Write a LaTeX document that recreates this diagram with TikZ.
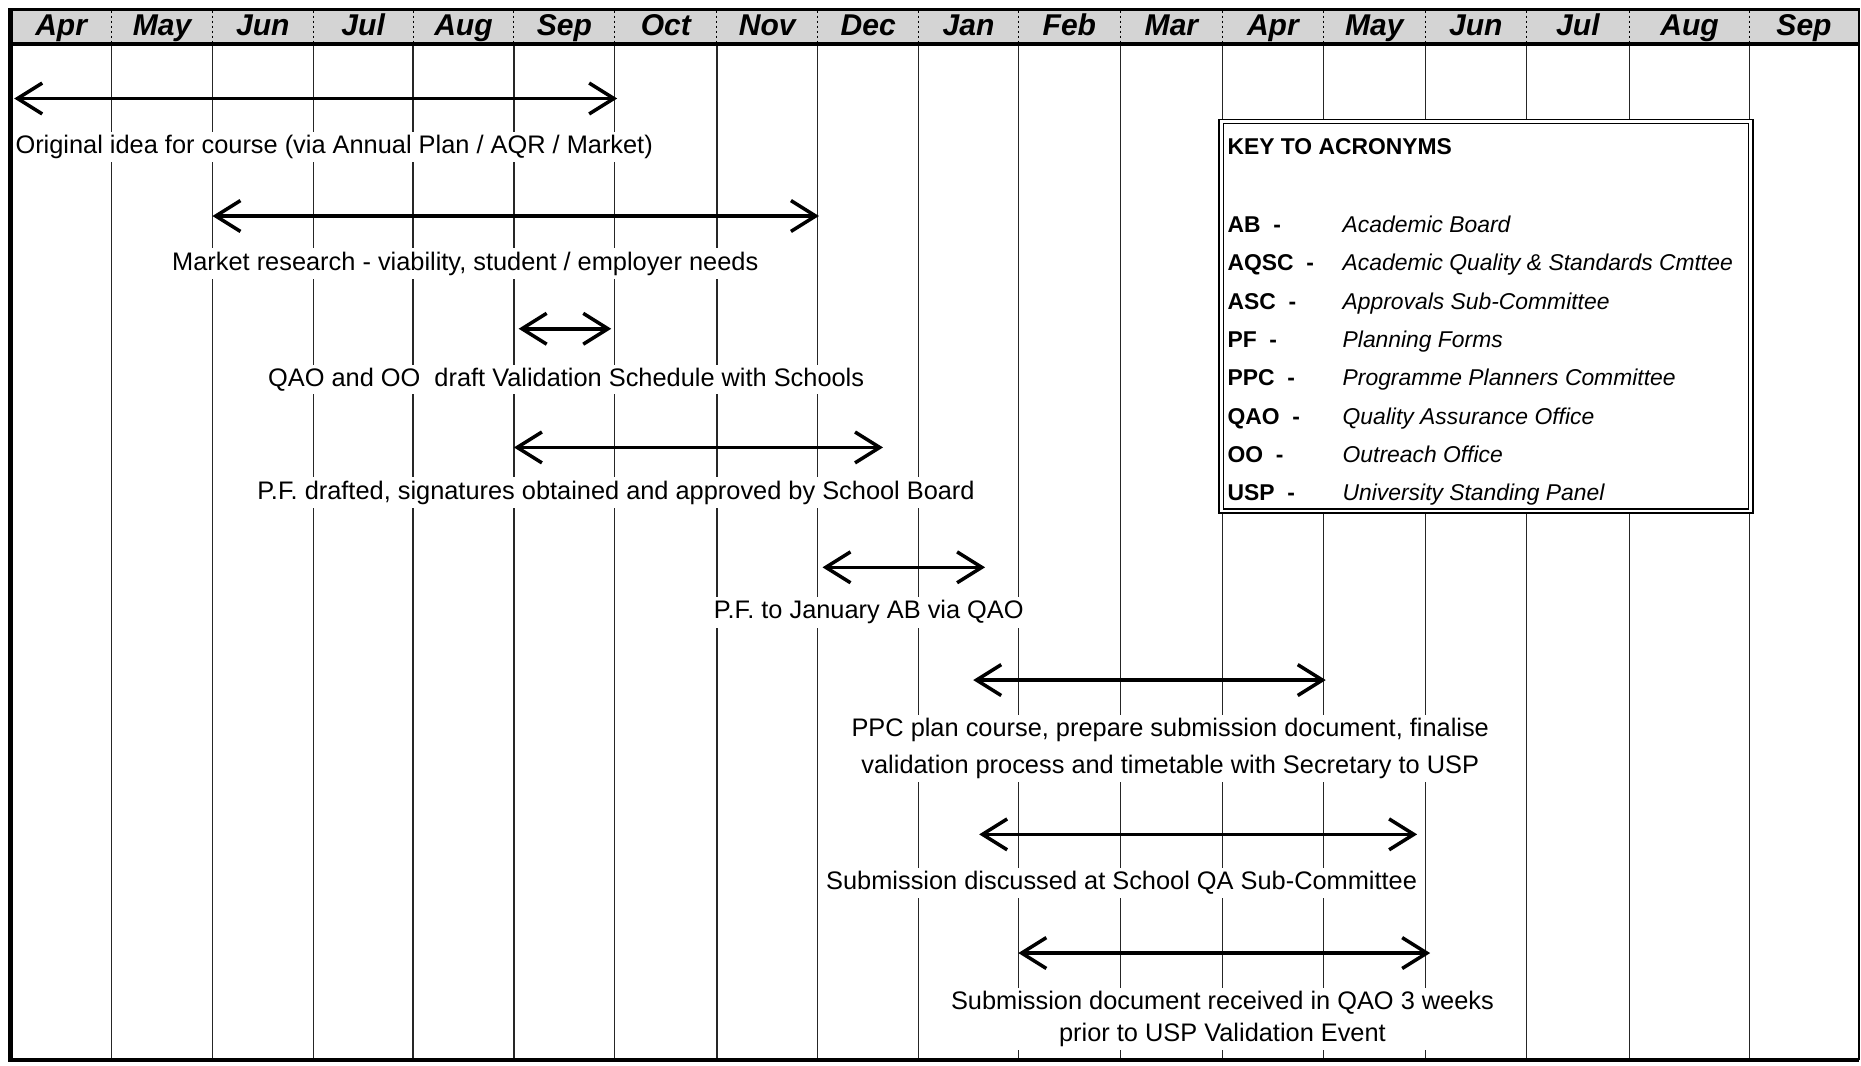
\documentclass[tikz,border=0pt]{standalone}
\usepackage{fontspec}
\setmainfont{Liberation Sans}
\usetikzlibrary{arrows.meta, positioning}

\begin{document}
\begin{tikzpicture}[x=0.025cm, y=-0.025cm,
      month/.style={font=\fontsize{18}{18}\selectfont\bfseries\itshape, inner sep=0pt, anchor=base},
      gridline/.style={line width=0.8pt, black!85},
      monthsep/.style={line width=0.6pt, dash pattern=on 1.5pt off 1.5pt},
      span/.style={{Straight Barb[length=5.2mm, width=6.5mm, line width=2.1pt]}-{Straight Barb[length=5.2mm, width=6.5mm, line width=2.1pt]},
                   line width=2.1pt},
      lbl/.style={font=\fontsize{15.2}{22}\selectfont, fill=white, inner sep=2pt, align=center, anchor=base},
      keybox/.style={draw, double, double distance=1.6pt, line width=0.9pt, fill=white,
                     minimum width=11.15cm, minimum height=8.2cm, inner sep=0pt},
      keyhead/.style={font=\fontsize{13.7}{16}\selectfont\bfseries, anchor=base west, inner sep=0pt},
      acr/.style={font=\fontsize{13.7}{16}\selectfont\bfseries, anchor=base west, inner sep=0pt},
      meaning/.style={font=\fontsize{13.7}{16}\selectfont\itshape, anchor=base west, inner sep=0pt}
    ]
    \useasboundingbox (0,0) rectangle (1568,898);

    % Kopfzeile mit Monaten
    \fill[black!17] (9,8) rectangle (1566,37);
    \foreach \a/\b/\m [count=\i] in {9/94/Apr, 94/179/May, 179/264/Jun, 264/348/Jul, 348/433/Aug,
        433/518/Sep, 518/604/Oct, 604/689/Nov, 689/774/Dec, 774/858/Jan, 858/944/Feb,
        944/1030/Mar, 1030/1115/Apr, 1115/1201/May, 1201/1286/Jun, 1286/1373/Jul,
        1373/1474/Aug, 1474/1566/Sep} {
      \node[month] (m\i) at ({(\a+\b)/2},29.5) {\m};
    }
    \foreach \x in {94,179,264,348,433,518,604,689,774,858,944,1030,1115,1201,1286,1373,1474} {
      \draw[monthsep] (\x,9) -- (\x,36);
      \draw[gridline] (\x,38) -- (\x,893);
    }
    \draw[line width=2.2pt] (9,8) -- (1566,8);
    \draw[line width=2.8pt] (9,37) -- (1566,37);

    % Legende
    \node[keybox] (key) at (1252,266.5) {};
    \node[keyhead] (khead) at (1034,130) {KEY TO ACRONYMS};
    \foreach \ab/\full [count=\i] in {AB/Academic Board, AQSC/Academic Quality \& Standards Cmttee,
        ASC/Approvals Sub-Committee, PF/Planning Forms, PPC/Programme Planners Committee,
        QAO/Quality Assurance Office, OO/Outreach Office, USP/University Standing Panel} {
      \node[acr] (a\i) at (1034,{163.5+32.3*\i}) {\ab\ \ -};
      \node[meaning] (d\i) at (1131,{163.5+32.3*\i}) {\full};
    }

    % Zeitspannen
    \coordinate (s1) at (12,83);    \coordinate (e1) at (520,83);
    \coordinate (s2) at (179,182);  \coordinate (e2) at (690,182);
    \coordinate (s3) at (437,277);  \coordinate (e3) at (515,277);
    \coordinate (s4) at (433,377);  \coordinate (e4) at (744,377);
    \coordinate (s5) at (693,478);  \coordinate (e5) at (830,478);
    \coordinate (s6) at (820,573);  \coordinate (e6) at (1117,573);
    \coordinate (s7) at (825,703);  \coordinate (e7) at (1194,703);
    \coordinate (s8) at (858,803);  \coordinate (e8) at (1205,803);
    \foreach \i in {1,...,8} {
      \draw[span] (s\i) -- (e\i);
    }

    % Beschriftungen
    \node[lbl, anchor=base west] (t1) at (10,129.5) {Original idea for course (via Annual Plan / AQR / Market)};
    \node[lbl] (t2) at (392,227.5) {Market research - viability, student / employer needs};
    \node[lbl] (t3) at (477,325.5) {QAO and OO\ \ draft Validation Schedule with Schools};
    \node[lbl] (t4) at (519,420.5) {P.F. drafted, signatures obtained and approved by School Board};
    \node[lbl] (t5) at (732,521.5) {P.F. to January AB via QAO};
    \node[lbl] (t6) at (986,651.5) {PPC plan course, prepare submission document, finalise\\
                                  validation process and timetable with Secretary to USP};
    \node[lbl] (t7) at (945,749.5) {Submission discussed at School QA Sub-Committee};
    \node[lbl, font=\fontsize{15.2}{19}\selectfont] (t8) at (1030,877.5) {Submission document received in QAO 3 weeks\\
                                  prior to USP Validation Event};

    % Rahmen
    \draw[line width=2.8pt] (9,7) -- (9,893) -- (1566,893);
    \draw[line width=1.2pt] (1566,7) -- (1566,893);
  \end{tikzpicture}
\end{document}
